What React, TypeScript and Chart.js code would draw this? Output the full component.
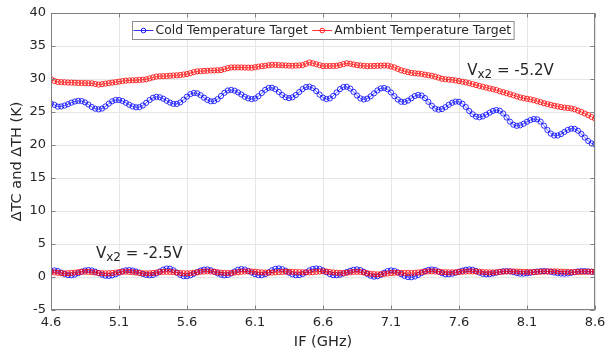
import React, { useEffect, useRef } from "react";
import { Chart, registerables } from "chart.js";

Chart.register(...registerables);

// IF sweep (GHz): 4.6 to 8.6 in 0.025 GHz steps
const F_START = 4.6;
const F_STEP = 0.025;
const F_COUNT = 161;
const FREQ: number[] = Array.from({ length: F_COUNT }, (_, i) => +(F_START + i * F_STEP).toFixed(3));

const X_TICKS = [4.6, 5.1, 5.6, 6.1, 6.6, 7.1, 7.6, 8.1, 8.6];
const Y_MIN = -5;
const Y_MAX = 40;
const Y_STEP = 5;

const SERIES_NAMES = ["Cold Temperature Target", "Ambient Temperature Target"];

// Vx2 = -5.2V, cold target (K)
const COLD_52 = [
  26.3, 26.08, 25.81, 25.84, 25.98, 26.18, 26.41, 26.59, 26.69, 26.66,
  26.45, 26.13, 25.76, 25.5, 25.4, 25.52, 25.84, 26.26, 26.62, 26.83,
  26.82, 26.67, 26.39, 26.1, 25.85, 25.71, 25.74, 25.99, 26.39, 26.82,
  27.16, 27.3, 27.23, 27.01, 26.71, 26.42, 26.23, 26.22, 26.45, 26.86,
  27.33, 27.71, 27.89, 27.83, 27.55, 27.17, 26.82, 26.62, 26.65, 26.95,
  27.42, 27.91, 28.26, 28.35, 28.23, 27.97, 27.65, 27.31, 27.07, 26.95,
  27.04, 27.39, 27.88, 28.35, 28.65, 28.68, 28.45, 28.04, 27.58, 27.23,
  27.1, 27.22, 27.57, 28.02, 28.47, 28.77, 28.84, 28.63, 28.18, 27.63,
  27.18, 26.96, 27.05, 27.43, 27.96, 28.47, 28.79, 28.82, 28.55, 28.05,
  27.49, 27.06, 26.9, 27.02, 27.37, 27.82, 28.27, 28.57, 28.64, 28.44,
  27.96, 27.4, 26.89, 26.55, 26.52, 26.73, 27.08, 27.42, 27.59, 27.5,
  27.11, 26.54, 25.95, 25.51, 25.35, 25.45, 25.73, 26.09, 26.4, 26.58,
  26.55, 26.25, 25.75, 25.16, 24.66, 24.3, 24.2, 24.33, 24.59, 24.9,
  25.17, 25.3, 25.19, 24.77, 24.17, 23.54, 23.07, 22.9, 22.98, 23.22,
  23.52, 23.78, 23.94, 23.89, 23.54, 22.93, 22.28, 21.73, 21.43, 21.44,
  21.65, 21.98, 22.29, 22.48, 22.45, 22.16, 21.68, 21.13, 20.6, 20.23,
  20.1,
];

// Vx2 = -5.2V, ambient target (K)
const AMB_52 = [
  30.0, 29.7, 29.55, 29.52, 29.5, 29.47, 29.45, 29.43, 29.4, 29.39,
  29.38, 29.36, 29.35, 29.25, 29.15, 29.22, 29.3, 29.38, 29.45, 29.52,
  29.6, 29.68, 29.75, 29.78, 29.8, 29.82, 29.85, 29.9, 29.95, 30.09,
  30.23, 30.37, 30.41, 30.43, 30.45, 30.49, 30.53, 30.56, 30.6, 30.68,
  30.75, 30.89, 31.04, 31.16, 31.19, 31.22, 31.25, 31.28, 31.3, 31.32,
  31.35, 31.49, 31.64, 31.75, 31.75, 31.75, 31.75, 31.73, 31.72, 31.7,
  31.78, 31.87, 31.94, 32.01, 32.08, 32.14, 32.13, 32.1, 32.08, 32.05,
  32.03, 32.0, 32.03, 32.06, 32.1, 32.3, 32.5, 32.38, 32.25, 32.1,
  31.95, 31.96, 31.97, 31.99, 32.0, 32.12, 32.25, 32.38, 32.31, 32.2,
  32.1, 32.05, 32.0, 31.95, 31.97, 31.98, 32.0, 32.02, 32.04, 32.03,
  31.9, 31.75, 31.53, 31.31, 31.18, 31.04, 30.93, 30.87, 30.82, 30.76,
  30.66, 30.57, 30.49, 30.36, 30.2, 30.04, 29.96, 29.91, 29.87, 29.77,
  29.69, 29.59, 29.49, 29.36, 29.22, 29.08, 28.95, 28.83, 28.7, 28.57,
  28.45, 28.33, 28.14, 28.0, 27.85, 27.69, 27.53, 27.36, 27.2, 27.1,
  27.0, 26.91, 26.79, 26.63, 26.48, 26.33, 26.2, 26.07, 25.96, 25.85,
  25.74, 25.66, 25.6, 25.54, 25.42, 25.21, 25.0, 24.77, 24.54, 24.25,
  24.0,
];

// Vx2 = -2.5V, cold target (K)
const COLD_25 = [
  0.9, 1.0, 0.89, 0.67, 0.44, 0.28, 0.26, 0.37, 0.58, 0.81,
  0.99, 1.05, 0.99, 0.81, 0.58, 0.35, 0.19, 0.15, 0.24, 0.42,
  0.65, 0.86, 1.01, 1.05, 0.98, 0.83, 0.65, 0.46, 0.32, 0.25,
  0.31, 0.53, 0.84, 1.12, 1.28, 1.26, 1.02, 0.66, 0.33, 0.12,
  0.12, 0.26, 0.49, 0.75, 0.98, 1.13, 1.14, 1.02, 0.8, 0.55,
  0.35, 0.25, 0.31, 0.54, 0.85, 1.1, 1.2, 1.13, 0.92, 0.67,
  0.43, 0.28, 0.27, 0.42, 0.71, 1.02, 1.24, 1.3, 1.18, 0.95,
  0.66, 0.4, 0.26, 0.28, 0.45, 0.71, 1.01, 1.22, 1.3, 1.22,
  1.0, 0.72, 0.45, 0.28, 0.26, 0.35, 0.53, 0.75, 0.95, 1.1,
  1.15, 1.05, 0.79, 0.47, 0.19, 0.05, 0.11, 0.34, 0.65, 0.91,
  1.0, 0.92, 0.7, 0.42, 0.15, -0.02, -0.04, 0.08, 0.32, 0.61,
  0.89, 1.08, 1.15, 1.06, 0.83, 0.57, 0.41, 0.42, 0.5, 0.64,
  0.81, 0.97, 1.1, 1.15, 1.1, 0.92, 0.68, 0.48, 0.4, 0.43,
  0.53, 0.65, 0.78, 0.87, 0.9, 0.85, 0.73, 0.59, 0.51, 0.51,
  0.56, 0.64, 0.74, 0.82, 0.88, 0.9, 0.86, 0.78, 0.68, 0.58,
  0.52, 0.5, 0.54, 0.63, 0.74, 0.84, 0.9, 0.89, 0.85, 0.8,
  0.75,
];

// Vx2 = -2.5V, ambient target (K)
const AMB_25 = [
  0.75, 0.7, 0.64, 0.58, 0.55, 0.57, 0.61, 0.67, 0.73, 0.78,
  0.8, 0.78, 0.73, 0.67, 0.61, 0.57, 0.55, 0.57, 0.61, 0.67,
  0.73, 0.78, 0.8, 0.78, 0.73, 0.67, 0.61, 0.57, 0.55, 0.57,
  0.61, 0.67, 0.73, 0.78, 0.8, 0.78, 0.73, 0.67, 0.61, 0.57,
  0.55, 0.58, 0.64, 0.71, 0.78, 0.83, 0.85, 0.83, 0.78, 0.72,
  0.66, 0.62, 0.6, 0.62, 0.67, 0.73, 0.79, 0.83, 0.85, 0.83,
  0.79, 0.74, 0.7, 0.67, 0.65, 0.67, 0.7, 0.74, 0.77, 0.79,
  0.8, 0.78, 0.75, 0.73, 0.71, 0.7, 0.7, 0.74, 0.79, 0.83,
  0.85, 0.82, 0.76, 0.7, 0.65, 0.62, 0.6, 0.64, 0.71, 0.77,
  0.8, 0.76, 0.68, 0.58, 0.49, 0.43, 0.4, 0.42, 0.47, 0.54,
  0.6, 0.64, 0.65, 0.63, 0.61, 0.6, 0.6, 0.63, 0.69, 0.75,
  0.8, 0.84, 0.85, 0.83, 0.79, 0.75, 0.72, 0.7, 0.7, 0.72,
  0.76, 0.8, 0.83, 0.85, 0.85, 0.83, 0.79, 0.75, 0.72, 0.7,
  0.7, 0.72, 0.76, 0.8, 0.83, 0.85, 0.85, 0.83, 0.81, 0.78,
  0.76, 0.75, 0.75, 0.77, 0.8, 0.82, 0.84, 0.85, 0.85, 0.84,
  0.82, 0.79, 0.77, 0.75, 0.75, 0.76, 0.77, 0.78, 0.79, 0.8,
  0.8,
];

// Text annotations (data coordinates of the baseline start)
const ANNOTATIONS = [
  { x: 7.66, y: 30.6, main: "V", sub: "x2", rest: " = -5.2V" },
  { x: 4.93, y: 2.9, main: "V", sub: "x2", rest: " = -2.5V" },
];

const BLUE = "rgba(0,0,255,0.8)";
const RED = "rgba(255,0,0,0.8)";
const BLUE_SOLID = "#0000ff";
const RED_SOLID = "#ff0000";
const TEXT = "#262626";
const FONT = "'DejaVu Sans', sans-serif";

const toPoints = (ys: number[]) => FREQ.map((f, i) => ({ x: f, y: ys[i] }));

const lineDs = (label: string, ys: number[], color: string, order: number) => ({
  label,
  data: toPoints(ys),
  borderColor: color,
  backgroundColor: "rgba(0,0,0,0)",
  borderWidth: 0.8,
  pointRadius: 2.6,
  pointBorderWidth: 1,
  pointBorderColor: color,
  pointBackgroundColor: "rgba(0,0,0,0)",
  pointStyle: "circle",
  tension: 0,
  fill: false,
  order,
});

const framePlugin = {
  id: "frame",
  afterDatasetsDraw(chart: any) {
    const { ctx, chartArea } = chart;
    const l = Math.round(chartArea.left) + 0.5;
    const r = Math.round(chartArea.right) - 0.5;
    const t = Math.round(chartArea.top) + 0.5;
    const b = Math.round(chartArea.bottom) - 0.5;
    const xs = chart.scales.x;
    const ys = chart.scales.y;
    ctx.save();
    ctx.strokeStyle = "#808080";
    ctx.lineWidth = 1;
    ctx.strokeRect(l, t, r - l, b - t);
    const tl = 4;
    ctx.beginPath();
    X_TICKS.forEach((v) => {
      const px = Math.round(xs.getPixelForValue(v)) + 0.5;
      ctx.moveTo(px, b);
      ctx.lineTo(px, b - tl);
      ctx.moveTo(px, t);
      ctx.lineTo(px, t + tl);
    });
    for (let v = Y_MIN; v <= Y_MAX; v += Y_STEP) {
      const py = Math.round(ys.getPixelForValue(v)) + 0.5;
      ctx.moveTo(l, py);
      ctx.lineTo(l + tl, py);
      ctx.moveTo(r, py);
      ctx.lineTo(r - tl, py);
    }
    ctx.stroke();
    ctx.restore();
  },
  afterDraw(chart: any) {
    const { ctx, chartArea } = chart;
    const xs = chart.scales.x;
    const ys = chart.scales.y;
    ctx.save();
    // annotations
    ANNOTATIONS.forEach((a) => {
      let px = xs.getPixelForValue(a.x);
      const py = ys.getPixelForValue(a.y);
      ctx.fillStyle = TEXT;
      ctx.textBaseline = "alphabetic";
      ctx.textAlign = "left";
      ctx.font = `15px ${FONT}`;
      ctx.fillText(a.main, px, py);
      px += ctx.measureText(a.main).width;
      ctx.font = `12px ${FONT}`;
      ctx.fillText(a.sub, px, py + 3);
      px += ctx.measureText(a.sub).width;
      ctx.font = `15px ${FONT}`;
      ctx.fillText(a.rest, px, py);
    });
    // legend
    ctx.font = `12.4px ${FONT}`;
    const colors = [BLUE_SOLID, RED_SOLID];
    const lineLen = 20;
    const gapLT = 2;
    const sep = 4.5;
    const padL = 1;
    const padR = 3;
    const widths = SERIES_NAMES.map((n) => ctx.measureText(n).width);
    const total = padL + lineLen + gapLT + widths[0] + sep + lineLen + gapLT + widths[1] + padR;
    const cx = (chartArea.left + chartArea.right) / 2;
    const boxL = Math.round(cx - total / 2) + 0.5;
    const boxT = Math.round(chartArea.top + 8) + 0.5;
    const boxH = 18;
    ctx.fillStyle = "#ffffff";
    ctx.fillRect(boxL, boxT, total, boxH);
    ctx.strokeStyle = "#8c8c8c";
    ctx.lineWidth = 1;
    ctx.strokeRect(boxL, boxT, total, boxH);
    let x = boxL + padL;
    const cy = boxT + boxH / 2;
    SERIES_NAMES.forEach((name, i) => {
      ctx.strokeStyle = colors[i];
      ctx.lineWidth = 0.8;
      ctx.beginPath();
      ctx.moveTo(x, cy);
      ctx.lineTo(x + lineLen, cy);
      ctx.stroke();
      ctx.lineWidth = 0.9;
      ctx.beginPath();
      ctx.arc(x + lineLen / 2, cy, 2.3, 0, Math.PI * 2);
      ctx.stroke();
      x += lineLen + gapLT;
      ctx.fillStyle = TEXT;
      ctx.textBaseline = "middle";
      ctx.textAlign = "left";
      ctx.fillText(name, x, cy + 0.5);
      x += widths[i] + sep;
    });
    ctx.restore();
  },
};

export default function App() {
  const ref = useRef<HTMLCanvasElement | null>(null);

  useEffect(() => {
    if (!ref.current) return;
    const chart = new Chart(ref.current, {
      type: "line",
      data: {
        datasets: [
          lineDs(SERIES_NAMES[0], COLD_52, BLUE, 4),
          lineDs(SERIES_NAMES[1], AMB_52, RED, 3),
          lineDs(SERIES_NAMES[0] + " (-2.5V)", COLD_25, BLUE, 2),
          lineDs(SERIES_NAMES[1] + " (-2.5V)", AMB_25, RED, 1),
        ],
      },
      options: {
        animation: false,
        responsive: false,
        devicePixelRatio: 1,
        layout: { padding: { left: 0, right: 11, top: 13, bottom: 0 } },
        plugins: {
          legend: { display: false },
          tooltip: { enabled: false },
        },
        scales: {
          x: {
            type: "linear",
            min: X_TICKS[0],
            max: X_TICKS[X_TICKS.length - 1],
            afterBuildTicks: (scale: any) => {
              scale.ticks = X_TICKS.map((v) => ({ value: v }));
            },
            afterFit: (scale: any) => {
              scale.height = 43;
              scale.paddingLeft = 0;
              scale.paddingRight = 0;
            },
            grid: { color: "#e6e6e6", drawTicks: false, lineWidth: 1 },
            border: { display: false },
            ticks: {
              autoSkip: false,
              maxRotation: 0,
              padding: 5,
              color: TEXT,
              font: { family: FONT, size: 13 },
              callback: (v: any) => Number(v).toFixed(1),
            },
            title: {
              display: true,
              text: "IF (GHz)",
              color: TEXT,
              font: { family: FONT, size: 14.5 },
              padding: { top: 0, bottom: 2 },
            },
          },
          y: {
            type: "linear",
            min: Y_MIN,
            max: Y_MAX,
            afterFit: (scale: any) => {
              scale.width = 51;
              scale.paddingTop = 0;
              scale.paddingBottom = 0;
            },
            grid: { color: "#e6e6e6", drawTicks: false, lineWidth: 1 },
            border: { display: false },
            ticks: {
              stepSize: Y_STEP,
              padding: 5,
              color: TEXT,
              font: { family: FONT, size: 13 },
            },
            title: {
              display: true,
              text: "ΔTC and ΔTH (K)",
              color: TEXT,
              font: { family: FONT, size: 14.5 },
              padding: { top: 8.5, bottom: 0 },
            },
          },
        },
      },
      plugins: [framePlugin],
    } as any);
    return () => chart.destroy();
  }, []);

  return (
    <div style={{ position: "fixed", left: 0, top: 0, width: 606, height: 353, background: "#fff" }}>
      <canvas ref={ref} width={606} height={353} style={{ display: "block", width: 606, height: 353 }} />
    </div>
  );
}
